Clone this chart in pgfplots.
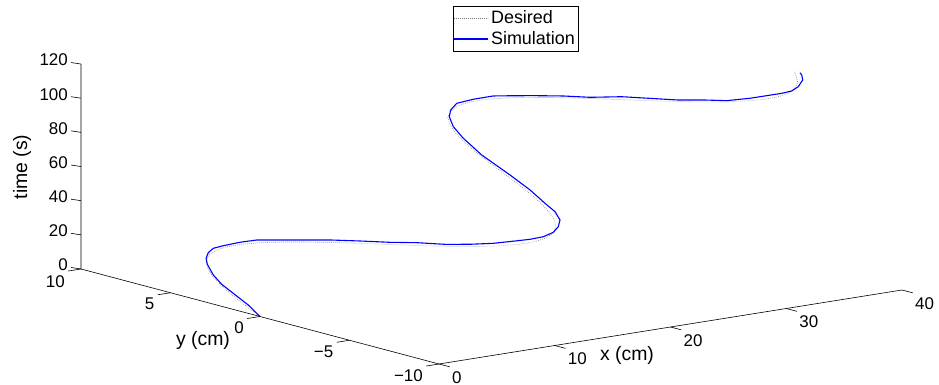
\documentclass[border=0pt]{standalone}
\usepackage{pgfplots}
\pgfplotsset{compat=1.18}
\usepackage{fontspec}
\setmainfont{Liberation Sans}
\begin{document}
\fontsize{17}{20}\selectfont
\begin{tikzpicture}
\begin{axis}[
  x={(11.575bp,1.85bp)}, y={(-17.9bp,4.75bp)}, z={(0bp,1.708bp)},
  xmin=0, xmax=40, ymin=-10, ymax=10, zmin=0, zmax=120,
  hide axis, clip=false,
  legend style={at={(axis description cs:0.529,0.957)}, anchor=north,
    draw=black, fill=white,
    font=\fontsize{18}{20}\selectfont, inner xsep=1bp, inner ysep=2.5bp,
    row sep=1bp, cells={anchor=west}},
  legend cell align=left,
  legend image code/.code={\draw[#1] (0bp,0bp) -- (34bp,0bp);},
]
\addlegendimage{color=black!55, line width=0.6bp, dash pattern=on 0.6bp off 1.4bp}
\addlegendentry{Desired}
\addlegendimage{color=blue, solid, line width=1.3bp}
\addlegendentry{Simulation}
\addplot3[forget plot, black!55, line width=0.6bp, dash pattern=on 0.6bp off 1.4bp] coordinates {
(0,0,0) (0.67,1.21,2) (1.35,2.37,4) (2.02,3.43,6) (2.70,4.35,8) (3.37,5.09,10)
(4.04,5.63,12) (4.72,5.93,14) (5.39,5.99,16) (6.07,5.81,18) (6.74,5.39,20)
(7.41,4.74,22) (8.09,3.91,24) (8.76,2.91,26) (9.44,1.80,28) (10.11,0.61,30)
(10.78,-0.61,32) (11.46,-1.80,34) (12.13,-2.91,36) (12.81,-3.91,38) (13.48,-4.74,40)
(14.15,-5.39,42) (14.83,-5.81,44) (15.50,-5.99,46) (16.18,-5.93,48) (16.85,-5.63,50)
(17.52,-5.09,52) (18.20,-4.35,54) (18.87,-3.43,56) (19.55,-2.37,58) (20.22,-1.21,60)
(20.89,0,62) (21.57,1.21,64) (22.24,2.37,66) (22.92,3.43,68) (23.59,4.35,70)
(24.26,5.09,72) (24.94,5.63,74) (25.61,5.93,76) (26.29,5.99,78) (26.96,5.81,80)
(27.63,5.39,82) (28.31,4.74,84) (28.98,3.91,86) (29.66,2.91,88) (30.33,1.80,90)
(31.00,0.61,92) (31.68,-0.61,94) (32.35,-1.80,96) (33.03,-2.91,98) (33.70,-3.91,100)
(34.37,-4.74,102) (35.05,-5.39,104) (35.72,-5.81,106) (36.40,-5.99,108) (37.07,-5.93,110)
(37.74,-5.63,112) (38.42,-5.09,114) (38.76,-4.75,115)
};
\addplot3[forget plot, blue, line width=1.1bp] coordinates {
(0,0,0) (0.84,1.2,2.5) (1.61,2.54,4.79) (2.21,3.57,6.55) (2.91,4.49,8.65)
(3.83,5.42,11.35) (4.39,5.85,13.03) (5.01,6.13,14.88) (5.59,6.22,16.58)
(6.11,6.0,18.14) (6.90,5.58,20.47) (7.57,5.08,22.46) (8.19,4.18,24.3)
(8.94,3.08,26.53) (9.52,2.25,28.24) (10.21,1.02,30.31) (10.88,-0.23,32.29)
(11.55,-1.28,34.27) (12.14,-2.49,36.03) (12.81,-3.45,38.0) (13.52,-4.29,40.13)
(14.33,-4.98,42.53) (14.90,-5.45,44.21) (15.51,-5.8,46.03) (16.22,-5.9,48.13)
(16.91,-5.73,50.19) (17.63,-5.36,52.31) (18.33,-4.63,54.38) (18.9,-3.7,56.09)
(19.84,-2.26,58.86) (20.81,-0.51,61.74) (22.06,1.88,65.45) (23.24,3.67,68.96)
(24.14,4.81,71.62) (25.03,5.61,74.27) (25.74,5.99,76.37) (26.57,6.19,78.83)
(27.41,5.81,81.33) (28.27,5.25,83.89) (28.83,4.49,85.55) (29.45,3.59,87.4)
(30.13,2.54,89.41) (30.71,1.42,91.12) (31.61,0.23,93.8) (32.16,-0.89,95.42)
(32.78,-2.17,97.28) (33.45,-3.13,99.25) (34.0,-4.08,100.89) (34.86,-4.83,103.44)
(35.56,-5.31,105.53) (36.2,-5.74,107.42) (36.7,-5.97,108.89) (37.3,-5.95,110.69)
(38.09,-5.69,113.03) (38.56,-5.33,114.43) (38.75,-5.11,114.98)
};
% axis lines
\draw[black, line width=0.6bp] (axis cs:0,10,120) -- (axis cs:0,10,0) -- (axis cs:0,-10,0) -- (axis cs:40,-10,0);
% z ticks
\pgfplotsinvokeforeach{0,20,40,60,80,100,120}{
  \draw[black, line width=0.6bp] (axis cs:0,10,#1) -- (axis cs:-0.234,10.407,#1);
  \node[anchor=east, inner sep=0pt, xshift=-3bp, yshift=2.5bp] at (axis cs:-0.234,10.407,#1) {#1};
}
% y ticks
\pgfplotsinvokeforeach{10,5,0,-5,-10}{
  \draw[black, line width=0.6bp] (axis cs:0,#1,0) -- (axis cs:-1.1,#1,0);
}
\node[anchor=north east, inner sep=0pt] at ([shift={(-16bp,-6bp)}]axis cs:0,10,0) {10};
\node[anchor=north east, inner sep=0pt] at ([shift={(-16bp,-5bp)}]axis cs:0,5,0) {5};
\node[anchor=north east, inner sep=0pt] at ([shift={(-16bp,-5bp)}]axis cs:0,0,0) {0};
\node[anchor=north east, inner sep=0pt] at ([shift={(-16bp,-5bp)}]axis cs:0,-5,0) {−5};
\node[anchor=north east, inner sep=0pt] at ([shift={(-16bp,-5bp)}]axis cs:0,-10,0) {−10};
% x ticks
\pgfplotsinvokeforeach{0,10,20,30,40}{
  \draw[black, line width=0.6bp] (axis cs:#1,-10,0) -- (axis cs:#1,-10.6,0);
  \node[anchor=north west, inner sep=0pt] at ([shift={(13bp,-7bp)}]axis cs:#1,-10,0) {#1};
}
\coordinate (O) at (axis cs:0,10,0);
\end{axis}
\node[rotate=90, font=\fontsize{19.5}{22}\selectfont] at ([shift={(-59bp,102bp)}]O) {time (s)};
\node[font=\fontsize{19.5}{22}\selectfont] at ([shift={(122bp,-71bp)}]O) {y (cm)};
\node[font=\fontsize{19.5}{22}\selectfont] at ([shift={(546bp,-86bp)}]O) {x (cm)};
\pgfresetboundingbox
\path ([shift={(-81bp,269bp)}]O) rectangle ([shift={(858bp,-116bp)}]O);
\end{tikzpicture}
\end{document}
